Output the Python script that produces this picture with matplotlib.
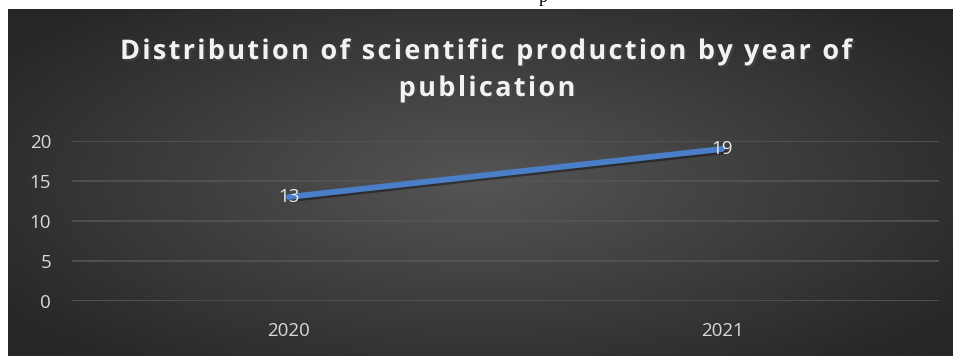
import numpy as np
import matplotlib
matplotlib.use("Agg")
import matplotlib.pyplot as plt
import matplotlib.patheffects as pe

years = ["2020", "2021"]
counts = [13, 19]
yticks = [0, 5, 10, 15, 20]
title_lines = ["Distribution of scientific production by year of", "publication"]

W, H = 954, 356
fig = plt.figure(figsize=(W / 100, H / 100), dpi=100)
fig.patch.set_facecolor("white")

# radial gradient background panel
bg = fig.add_axes([8 / W, 0, 1 - 8 / W, 1 - 9 / H])
bg.set_axis_off()
nx, ny = 400, 150
xx, yy = np.meshgrid(np.linspace(-1, 1, nx), np.linspace(-1, 1, ny))
r = np.sqrt(xx ** 2 + (yy * 0.9) ** 2)
r = np.clip(r / 1.25, 0, 1)
inner = np.array([0x55, 0x55, 0x55]) / 255
outer = np.array([0x26, 0x26, 0x26]) / 255
img = inner[None, None, :] * (1 - r[..., None]) + outer[None, None, :] * r[..., None]
bg.imshow(img, aspect="auto", extent=[0, 1, 0, 1], interpolation="bilinear")
bg.set_xlim(0, 1)
bg.set_ylim(0, 1)

# clipped text fragment at the top
fig.text(543 / W, 1 - 2 / H, "p", family="Liberation Serif", fontsize=13,
         color="black", ha="center", va="baseline")

left, right = 72 / W, 939 / W
bottom, top = 1 - 301 / H, 1 - 141 / H
ax = fig.add_axes([left, bottom, right - left, top - bottom])
ax.patch.set_alpha(0)
x = np.arange(len(years))
ax.set_xlim(-0.5, len(years) - 0.5)
ax.set_ylim(0, 20)
ax.set_yticks(yticks)
ax.set_yticklabels([str(v) for v in yticks])
ax.set_xticks(x)
ax.set_xticklabels(years)
for s in ax.spines.values():
    s.set_visible(False)
ax.grid(axis="y", color="#555555", lw=1.2)
ax.set_axisbelow(True)
ax.tick_params(axis="both", length=0, colors="#d9d9d9", labelsize=13.5)
ax.tick_params(axis="y", pad=15)
ax.tick_params(axis="x", pad=15)
for lab in ax.get_xticklabels() + ax.get_yticklabels():
    lab.set_family("Open Sans")
    lab.set_color("#d9d9d9")

ax.plot(x, counts, color="#4a7ec8", lw=4.2, solid_capstyle="round", zorder=3,
        path_effects=[pe.SimpleLineShadow(offset=(1.5, -1.5), alpha=0.4), pe.Normal()])
for xi, v in zip(x, counts):
    ax.text(xi, v, str(v), ha="center", va="center", color="#e6e6e6",
            fontsize=13.5, family="Open Sans", zorder=4)

# ---- letter-spaced title ----
renderer = fig.canvas.get_renderer()
tkw = dict(family="Open Sans", fontweight="bold")


def width_px(s, fs):
    t = fig.text(0, 0, s, fontsize=fs, **tkw)
    w = t.get_window_extent(renderer).width
    t.remove()
    return w


def advances(s, fs):
    base = width_px("l", fs)
    return [width_px(s[:i] + "l", fs) - base if i > 0 else 0.0 for i in range(len(s))]


F = 19.5
line1_span = (120, 852)
sp = (line1_span[1] - line1_span[0] - width_px(title_lines[0], F)) / (len(title_lines[0]) - 1)
sp = max(sp, 0.0)
layout = [(486, 59), (487, 96)]  # centre x, baseline (px)

shadow = [pe.withSimplePatchShadow(offset=(1.5, -1.5), alpha=0.6)]
for s, (cx, base) in zip(title_lines, layout):
    adv = advances(s, F)
    total = width_px(s, F) + sp * (len(s) - 1)
    x0 = cx - total / 2
    for i, ch in enumerate(s):
        if ch == " ":
            continue
        fig.text((x0 + adv[i] + sp * i) / W, 1 - base / H, ch, fontsize=F,
                 color="#f2f2f2", ha="left", va="baseline",
                 path_effects=shadow, **tkw)

fig.savefig("out.png", dpi=100, facecolor="white")
